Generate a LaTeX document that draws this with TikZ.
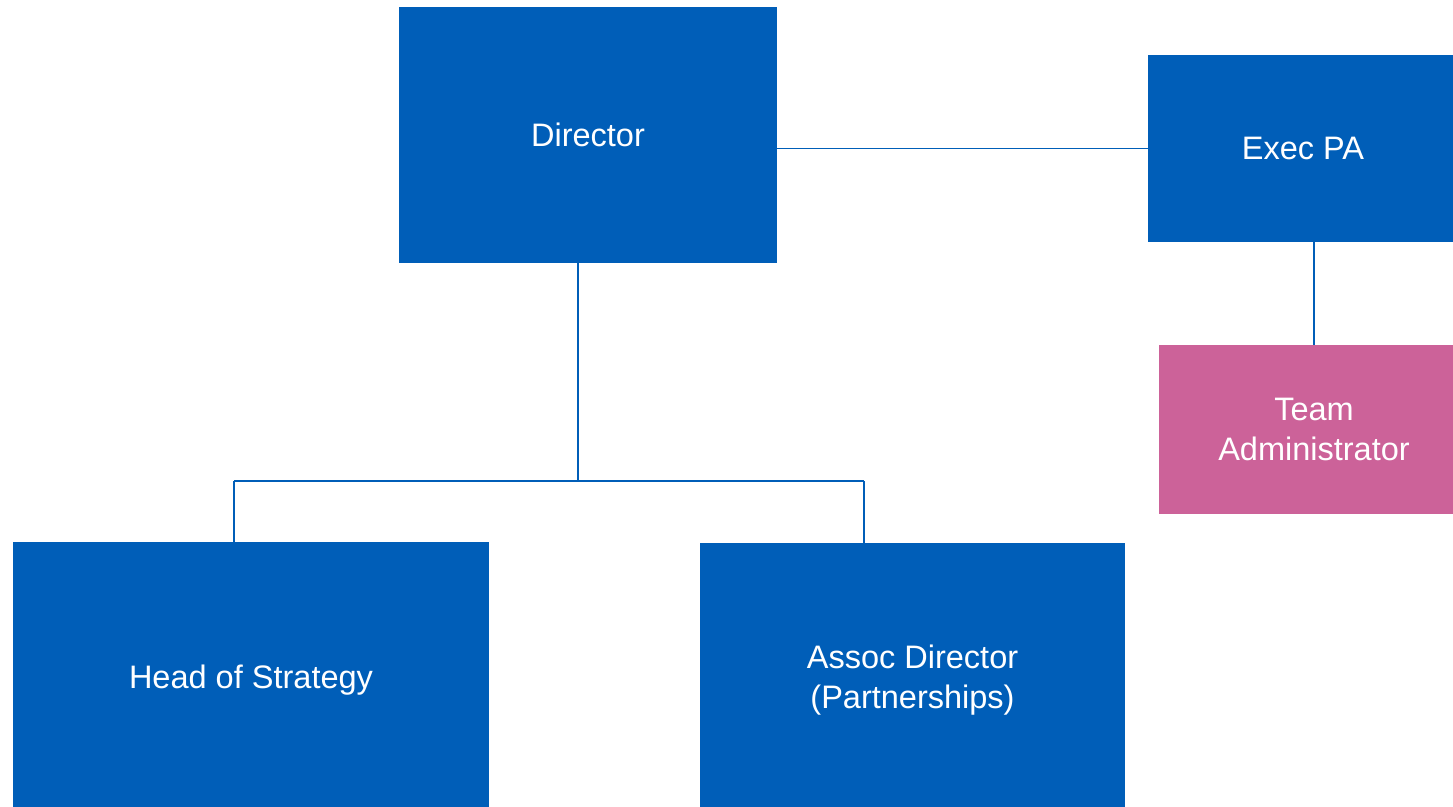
\documentclass[tikz,border=0pt]{standalone}
\usepackage{fontspec}
\setmainfont{Liberation Sans}
\usetikzlibrary{positioning,calc}
\definecolor{nhsblue}{HTML}{005EB8}
\definecolor{pinkrole}{HTML}{CC6299}
\newcommand{\lowertext}[2]{\raisebox{-#1}[\height][\depth]{#2}}

\begin{document}
\begin{tikzpicture}[x=0.2mm,y=-0.2mm,
  role/.style={fill=nhsblue,draw=none,text=white,align=center,font=\fontsize{18.5}{22.5}\selectfont,inner sep=0},
  admin/.style={role,fill=pinkrole},
  conn/.style={draw=nhsblue,line width=1.1pt}]
  \useasboundingbox (0,0) rectangle (1453,807);
  % boxes
  \node[role,minimum width=75.6mm,minimum height=51.2mm] (dir) at (588,135) {Director};
  \node[role,minimum width=61mm,minimum height=37.4mm] (xpa) at (1300.5,148.5) {\hspace*{1mm}Exec PA};
  \node[admin,minimum width=58.8mm,minimum height=33.8mm] (adm) at (1306,429.5) {\hspace*{3.2mm}Team\\\hspace*{3.2mm}Administrator};
  \node[role,minimum width=95.2mm,minimum height=53mm] (hos) at (251,674.5) {\lowertext{1.2mm}{Head of Strategy}};
  \node[role,minimum width=85mm,minimum height=52.8mm] (ado) at (912.5,675) {\lowertext{1mm}{Assoc Director}\\\lowertext{1mm}{(Partnerships)}};
  % reporting lines
  \coordinate (bus) at (578,481);
  \coordinate (busL) at (234,481);
  \coordinate (busR) at (864,481);
  \draw[conn] (dir.east |- xpa.west) -- (xpa.west);
  \draw[conn] (dir.south -| bus) -- (bus);
  \draw[conn] (busL) -- (busR);
  \draw[conn] (busL) -- (busL |- hos.north);
  \draw[conn] (busR) -- (busR |- ado.north);
  \draw[conn] ([xshift=2.7mm]xpa.south) -- ([xshift=2.7mm]xpa.south |- adm.north);
\end{tikzpicture}
\end{document}
